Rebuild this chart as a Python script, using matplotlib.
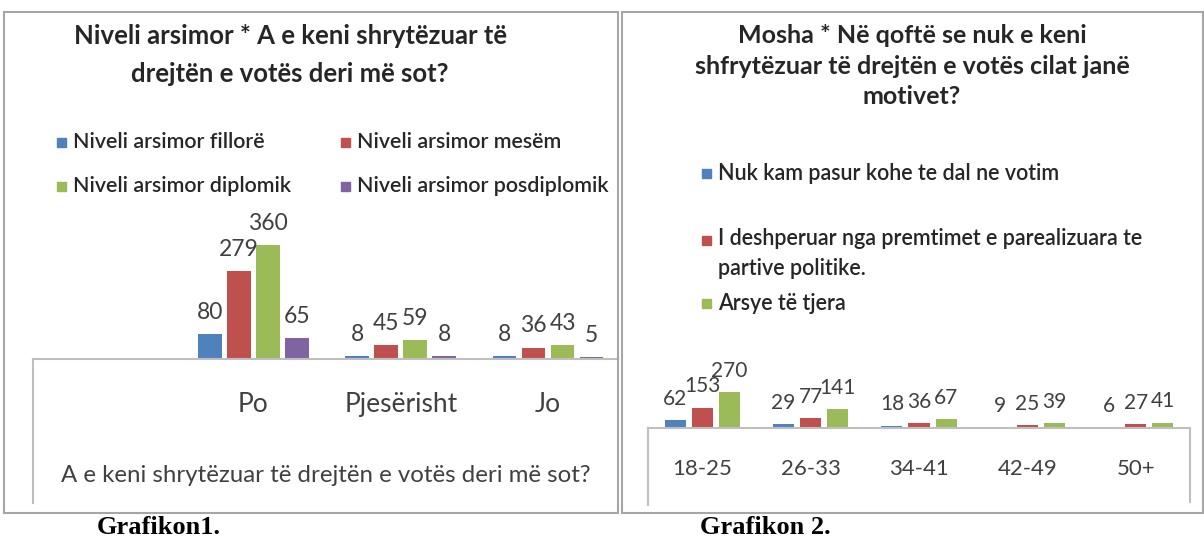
import numpy as np
import matplotlib
matplotlib.use('Agg')
import matplotlib.pyplot as plt
from matplotlib.patches import Rectangle
from matplotlib.lines import Line2D

plt.rcParams['font.family'] = ['Lato', 'DejaVu Sans']

# --- Grafikon 1 ---
kategori1 = ['Po', 'Pjesërisht', 'Jo']
nivelet = ['Niveli arsimor fillorë', 'Niveli arsimor mesëm',
           'Niveli arsimor diplomik', 'Niveli arsimor posdiplomik']
fillor = [80, 8, 8]
mesem = [279, 45, 36]
diplomik = [360, 59, 43]
posdiplomik = [65, 8, 5]

# --- Grafikon 2 ---
kategori2 = ['18-25', '26-33', '34-41', '42-49', '50+']
motivet = ['Nuk kam pasur kohe te dal ne votim',
           'I deshperuar nga premtimet e parealizuara te\npartive politike.',
           'Arsye të tjera']
pa_kohe = [62, 29, 18, 9, 6]
te_deshperuar = [153, 77, 36, 25, 27]
arsye_tjera = [270, 141, 67, 39, 41]

ngjyrat = ['#4F81BD', '#C0504D', '#9BBB59', '#8064A2']
GRI = '#BFBFBF'
TEKST = '#262626'

W, H = 1204, 541
fig = plt.figure(figsize=(W / 100, H / 100), dpi=100)


def fx(x):
    return x / W


def fy(y):
    return 1 - y / H


def kuti(x0, y0, x1, y1):
    return [fx(x0), fy(y1), (x1 - x0) / W, (y1 - y0) / H]


def vije(xs, ys, color=GRI):
    fig.add_artist(Line2D([fx(v) for v in xs], [fy(v) for v in ys],
                          transform=fig.transFigure, color=color, lw=1.5))


def legjende(x, y, ngjyra, tekst, fs, ty=None):
    fig.add_artist(Rectangle((fx(x), fy(y + 5)), 9 / W, 9 / H,
                             transform=fig.transFigure, color=ngjyra))
    fig.text(fx(x + 16), fy(y if ty is None else ty), tekst, fontsize=fs,
             va='center', ha='left', color=TEKST, weight='semibold',
             linespacing=1.5)


# korniza e jashtme
for x0, x1 in [(4, 618), (622, 1203)]:
    fig.add_artist(Rectangle((fx(x0), fy(513)), (x1 - x0) / W, (513 - 12) / H,
                             transform=fig.transFigure, fill=False,
                             ec='#A6A6A6', lw=1.5))

# ---------- grafiku 1 ----------
ax1 = fig.add_axes(kuti(33, 219, 618, 359))
x1 = np.arange(len(kategori1))
hap, gjer = 0.197, 0.16
for i, vlerat in enumerate([fillor, mesem, diplomik, posdiplomik]):
    b = ax1.bar(x1 + (i - 1.5) * hap, vlerat, gjer, color=ngjyrat[i])
    ax1.bar_label(b, padding=8, fontsize=16.5, color='#404040')
ax1.set_xlim(-1.497, 2.475)
ax1.set_ylim(0, 442)
ax1.set_xticks(x1, kategori1, fontsize=19, color='#404040')
ax1.tick_params(axis='x', length=0, pad=24)
ax1.set_yticks([])
for s in ['top', 'left', 'right']:
    ax1.spines[s].set_visible(False)
ax1.spines['bottom'].set_color(GRI)
ax1.spines['bottom'].set_linewidth(1.5)
ax1.patch.set_alpha(0)
vije([33, 33], [359, 503])

fig.text(fx(290), fy(55), 'Niveli arsimor * A e keni shrytëzuar të\ndrejtën e votës deri më sot?',
         ha='center', va='center', fontsize=18.5, weight='bold', color=TEKST,
         linespacing=1.68)
fig.text(fx(326), fy(475), 'A e keni shrytëzuar të drejtën e votës deri më sot?',
         ha='center', va='center', fontsize=17.3, color='#404040')
for i, emri in enumerate(nivelet):
    legjende(57 + 284 * (i % 2), 142 + 44 * (i // 2), ngjyrat[i], emri, 15.4)

# ---------- grafiku 2 ----------
ax2 = fig.add_axes(kuti(648, 328, 1190, 428))
x2 = np.arange(len(kategori2))
hap2, gjer2 = 0.25, 0.195
for i, vlerat in enumerate([pa_kohe, te_deshperuar, arsye_tjera]):
    b = ax2.bar(x2 + (i - 1) * hap2, vlerat, gjer2, color=ngjyrat[i])
    ax2.bar_label(b, padding=8, fontsize=15, color='#404040')
ax2.set_xlim(-0.5, 4.5)
ax2.set_ylim(0, 750)
ax2.set_xticks(x2, kategori2, fontsize=16, color='#404040')
ax2.tick_params(axis='x', length=0, pad=22)
ax2.set_yticks([])
for s in ['top', 'left', 'right']:
    ax2.spines[s].set_visible(False)
ax2.spines['bottom'].set_color(GRI)
ax2.spines['bottom'].set_linewidth(1.5)
ax2.patch.set_alpha(0)
vije([648, 648], [428, 505])
vije([1190, 1190], [428, 502])

fig.text(fx(912), fy(66), 'Mosha * Në qoftë se nuk e keni\nshfrytëzuar të drejtën e votës cilat janë\nmotivet?',
         ha='center', va='center', fontsize=18, weight='bold', color=TEKST,
         linespacing=1.4)
legjende(702, 173, ngjyrat[0], motivet[0], 15.5)
legjende(702, 240, ngjyrat[1], motivet[1], 15.5, ty=253.5)
legjende(702, 303, ngjyrat[2], motivet[2], 15.5)

# titujt poshte
fig.text(fx(97), fy(528), 'Grafikon1.', family='Liberation Serif', weight='bold',
         fontsize=19, va='center', color='black')
fig.text(fx(700), fy(528), 'Grafikon 2.', family='Liberation Serif', weight='bold',
         fontsize=19, va='center', color='black')

fig.savefig('out.png', dpi=100)
